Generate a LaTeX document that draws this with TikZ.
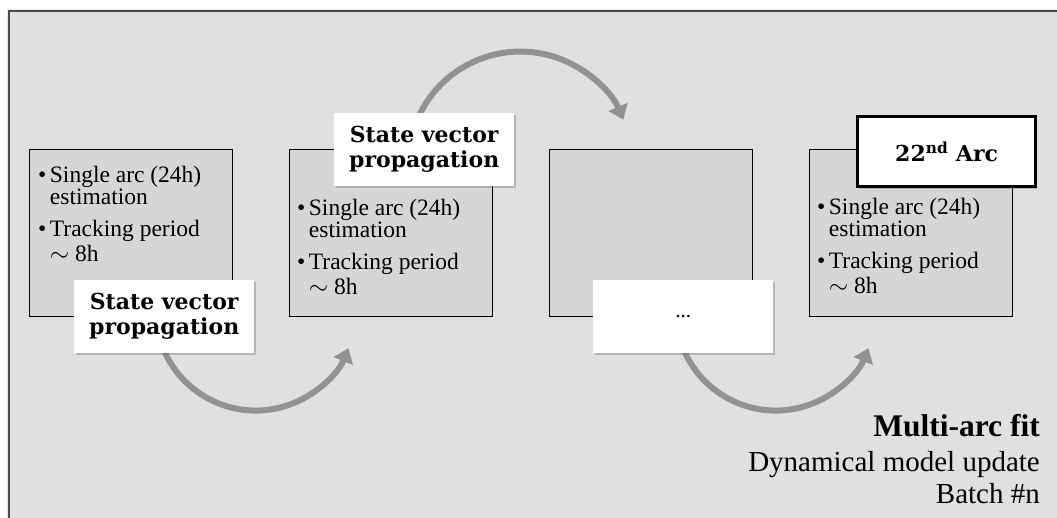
\documentclass[tikz,border=0pt]{standalone}
\usepackage{fontspec}
\setmainfont{Liberation Serif}
\newfontfamily\labelfont{DejaVu Serif}
\usetikzlibrary{shadows,arrows.meta}
\definecolor{panelgray}{HTML}{E0E0E0}
\definecolor{boxgray}{HTML}{D6D6D6}
\definecolor{arrowgray}{HTML}{929292}
\tikzset{
  arcbox/.style={draw=black, line width=1.4pt, fill=boxgray, minimum width=203pt,
    minimum height=167pt, anchor=north west, inner sep=0pt},
  tag/.style={fill=white, minimum width=180pt, minimum height=73pt, anchor=north west,
    inner sep=0pt, align=center, font=\labelfont\bfseries\fontsize{22}{25}\selectfont,
    drop shadow={shadow xshift=1.5pt, shadow yshift=-2pt, opacity=0.35, fill=black!60}},
  flow/.style={draw=arrowgray, line width=6pt,
    -{Triangle[length=14pt,width=20pt]}},
  items/.style={anchor=base west, align=left, inner sep=0pt,
    font=\fontsize{23.5}{22}\selectfont},
}
% two bulleted lines repeated in every arc box
\newcommand{\arcitems}{%
  \begin{tabular}[t]{@{}l@{\hspace{3.5pt}}l@{}}
  \textbullet & Single arc (24h)\\
              & estimation\\[9.5pt]
  \textbullet & Tracking period\\[2pt]
              & $\sim$ 8h
  \end{tabular}}
\begin{document}
\begin{tikzpicture}[x=1pt,y=-1pt]
\useasboundingbox (0,0) rectangle (1057,517);
% outer panel
\fill[black!20, opacity=0.5] (7,9) rectangle (1060,530);
\fill[panelgray] (9,11) rectangle (1060,530);
\draw[black!70, line width=1.6pt] (9,530) -- (9,11) -- (1060,11);

% arc boxes
\node[arcbox] (b1) at (29,149) {};
\node[arcbox] (b2) at (289,149) {};
\node[arcbox] (b3) at (549,149) {};
\node[arcbox] (b4) at (809,149) {};

\node[items] (t1) at (38,182) {\arcitems};
\node[items] (t2) at (297,215) {\arcitems};
\node[items] (t4) at (817,214) {\arcitems};

% propagation arrows
\coordinate (s1) at (163,348);
\coordinate (s2) at (418,118);
\coordinate (s3) at (683,348);
\draw[flow] (s1) arc[start angle=158, end angle=22, radius=100];
\draw[flow] (s2) arc[start angle=204, end angle=337, radius=112];
\draw[flow] (s3) arc[start angle=158, end angle=22, radius=100];

% labels
\node[tag] (l1) at (74,280) {State vector\\propagation};
\node[tag] (l2) at (334,113) {State vector\\propagation};
\node[tag, font=\fontsize{21}{22}\selectfont] (l3) at (593,280) {...};
\node[tag, minimum width=178pt, minimum height=70pt, draw=black, line width=3.2pt,
  font=\labelfont\bfseries\fontsize{22}{24}\selectfont] (l4) at (856,115) {22\textsuperscript{nd} Arc};

% caption
\node[anchor=base east, inner sep=0pt, font=\bfseries\fontsize{31.5}{33}\selectfont]
  (c1) at (1040,436) {Multi-arc fit};
\node[anchor=base east, inner sep=0pt, font=\fontsize{29}{31}\selectfont]
  (c2) at (1040,471) {Dynamical model update};
\node[anchor=base east, inner sep=0pt, font=\fontsize{29}{31}\selectfont]
  (c3) at (1040,503) {Batch \#n};
\end{tikzpicture}
\end{document}
